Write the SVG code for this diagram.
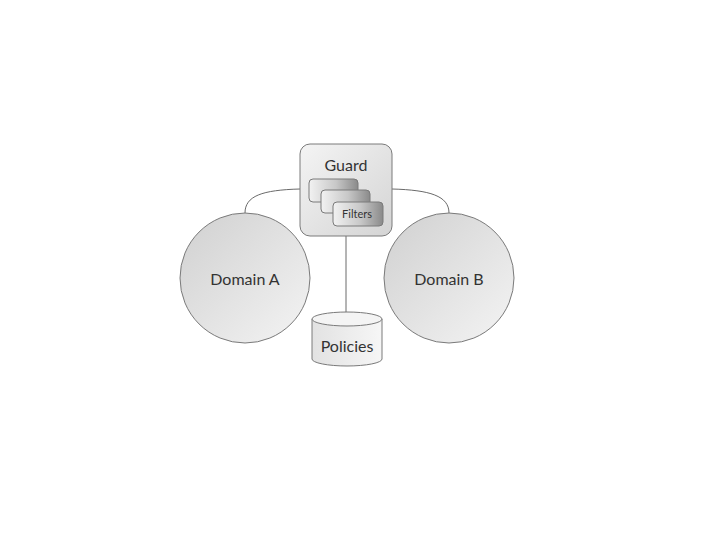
<svg xmlns="http://www.w3.org/2000/svg" width="720" height="540" viewBox="0 0 720 540">
<defs>
<linearGradient id="gCircle" x1="0" y1="0" x2="1" y2="1">
<stop offset="0" stop-color="#d0d0d0"/>
<stop offset="1" stop-color="#f4f4f4"/>
</linearGradient>
<linearGradient id="gBox" x1="0" y1="0" x2="1" y2="1">
<stop offset="0" stop-color="#f4f4f4"/>
<stop offset="1" stop-color="#d4d4d4"/>
</linearGradient>
<linearGradient id="gCard" x1="0" y1="0" x2="1" y2="0">
<stop offset="0" stop-color="#f2f2f2"/>
<stop offset="0.55" stop-color="#c8c8c8"/>
<stop offset="1" stop-color="#8a8a8a"/>
</linearGradient>
<linearGradient id="gCyl" x1="0" y1="0" x2="1" y2="0">
<stop offset="0" stop-color="#e2e2e2"/>
<stop offset="1" stop-color="#f6f6f6"/>
</linearGradient>
<style>
.shape{stroke:#7a7a7a;stroke-width:1}
.conn{fill:none;stroke:#6a6a6a;stroke-width:1}
.lbl{font-family:Lato,"Liberation Sans",Arial,sans-serif;fill:#333;text-anchor:middle}
</style>
</defs>
<rect width="720" height="540" fill="#fff"/>
<g id="connectors">
<path class="conn" d="M245,213 C245,196 262,190 300,189"/>
<path class="conn" d="M392,189 C430,190 449,196 449,213"/>
<line class="conn" x1="346" y1="236" x2="346" y2="318"/>
</g>
<g id="domainA">
<circle class="shape" cx="245" cy="278" r="65" fill="url(#gCircle)"/>
<text class="lbl" x="245" y="285" font-size="16">Domain A</text>
</g>
<g id="domainB">
<circle class="shape" cx="449" cy="278" r="65" fill="url(#gCircle)"/>
<text class="lbl" x="449" y="285" font-size="16">Domain B</text>
</g>
<g id="guard">
<rect class="shape" x="300" y="144" width="92" height="92" rx="10" fill="url(#gBox)"/>
<text class="lbl" x="346" y="171" font-size="16">Guard</text>
<rect class="shape" x="309" y="179" width="49" height="23" rx="4" fill="url(#gCard)"/>
<rect class="shape" x="321" y="190" width="49" height="23" rx="4" fill="url(#gCard)"/>
<rect class="shape" x="333" y="202" width="50" height="24" rx="4" fill="url(#gCard)"/>
<text class="lbl" x="357" y="218" font-size="11">Filters</text>
</g>
<g id="policies">
<path class="shape" d="M312,319 L312,359 A35,7 0 0 0 382,359 L382,319" fill="url(#gCyl)"/>
<ellipse class="shape" cx="347" cy="319" rx="35" ry="7" fill="#f4f4f4"/>
<text class="lbl" x="347" y="352" font-size="16">Policies</text>
</g>
</svg>
